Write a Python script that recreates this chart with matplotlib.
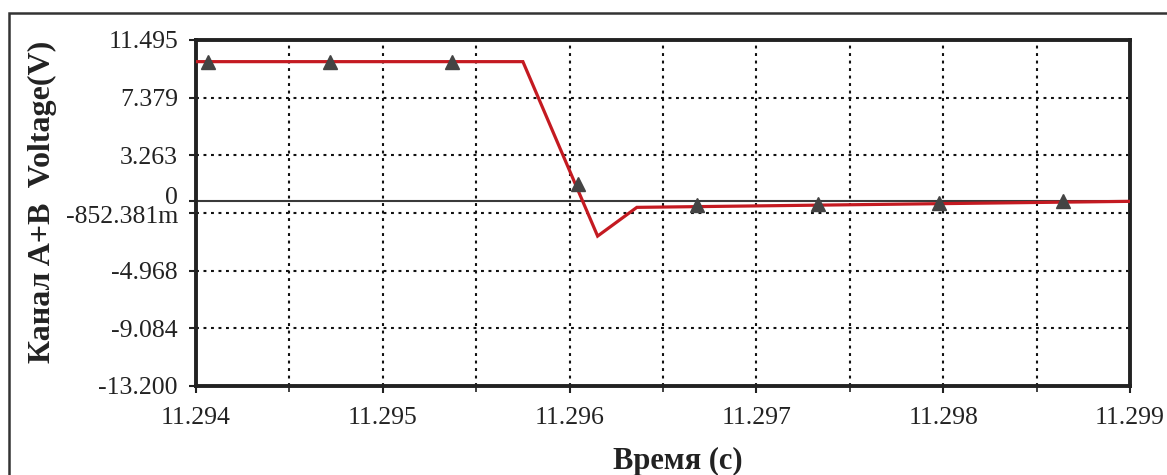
import matplotlib
matplotlib.use("Agg")
import matplotlib.pyplot as plt
from matplotlib.patches import Rectangle
from matplotlib.ticker import MultipleLocator
from matplotlib.transforms import ScaledTranslation

# ---- data ----
line_t = [11.294, 11.29575, 11.29615, 11.29636, 11.299]
line_v = [9.95, 9.95, -2.5, -0.45, -0.02]
marker_t = [11.294066, 11.294717, 11.295372, 11.296047, 11.296680, 11.297328, 11.297979, 11.298640]
marker_v = [9.95, 9.95, 9.95, 1.2, -0.3, -0.2, -0.15, -0.02]
yticks = [11.495, 7.379, 3.263, 0.0, -0.852381, -4.968, -9.084, -13.200]
ytick_labels = ["11.495", "7.379", "3.263", "0", "-852.381m", "-4.968", "-9.084", "-13.200"]
xticks = [11.294, 11.295, 11.296, 11.297, 11.298, 11.299]
xtick_labels = ["11.294", "11.295", "11.296", "11.297", "11.298", "11.299"]
ylabel = "Канал A+B  Voltage(V)"
xlabel = "Время (с)"

plt.rcParams['font.family'] = ['Liberation Serif', 'DejaVu Serif']

fig = plt.figure(figsize=(11.67, 4.75), dpi=100)
W, H = 1167, 475
ax = fig.add_axes([196 / W, 1 - 386 / H, (1130 - 196) / W, (386 - 40) / H])

ax.set_xlim(11.294, 11.299)
ax.set_ylim(-13.2, 11.495)

# grid
for y in yticks:
    if y == 0.0:
        continue
    ax.axhline(y, color='#111111', lw=1.5, ls=(0, (1.4, 2.2)), zorder=1)
ax.xaxis.set_minor_locator(MultipleLocator(0.0005))
for x in [11.294 + 0.0005 * k for k in range(1, 10)]:
    ax.axvline(x, color='#111111', lw=1.5, ls=(0, (1.4, 2.2)), zorder=1)
ax.axhline(0.0, color='#3a3a3a', lw=1.5, zorder=2)

ax.plot(line_t, line_v, color='#c41a21', lw=2.3, zorder=3, solid_joinstyle='miter')
ax.plot(marker_t, marker_v, ls='none', marker='^', ms=10, color='#444444', zorder=4)

ax.set_yticks(yticks)
ax.set_yticklabels(ytick_labels)
ax.set_xticks(xticks)
ax.set_xticklabels(xtick_labels)
ax.tick_params(axis='both', which='major', labelsize=18.5, length=5, width=1.5,
               color='#222222', direction='out', labelcolor='#222222')
ax.tick_params(axis='y', pad=8)
ax.tick_params(axis='x', pad=10)
ax.tick_params(axis='x', which='minor', length=4, width=1.2, color='#222222')

# nudge the crowded labels near zero apart
labels = ax.get_yticklabels()
labels[3].set_transform(labels[3].get_transform() + ScaledTranslation(0, 6 / 100, fig.dpi_scale_trans))
labels[4].set_transform(labels[4].get_transform() + ScaledTranslation(0, -2 / 100, fig.dpi_scale_trans))

for s in ax.spines.values():
    s.set_linewidth(2.8)
    s.set_color('#222222')

fig.text(42 / W, 1 - 202 / H, ylabel, rotation=90, ha='center', va='center',
         fontsize=23, fontweight='bold', color='#222222')
fig.text(678 / W, 1 - 461 / H, xlabel, ha='center', va='center',
         fontsize=22, fontweight='bold', color='#222222')

# outer frame
fig.patches.append(Rectangle((9 / W, -0.2), 1.2, 1.2 - 13 / H,
                             transform=fig.transFigure, fill=False,
                             edgecolor='#333333', lw=1.8, clip_on=False))

fig.savefig("out.png", dpi=100)
